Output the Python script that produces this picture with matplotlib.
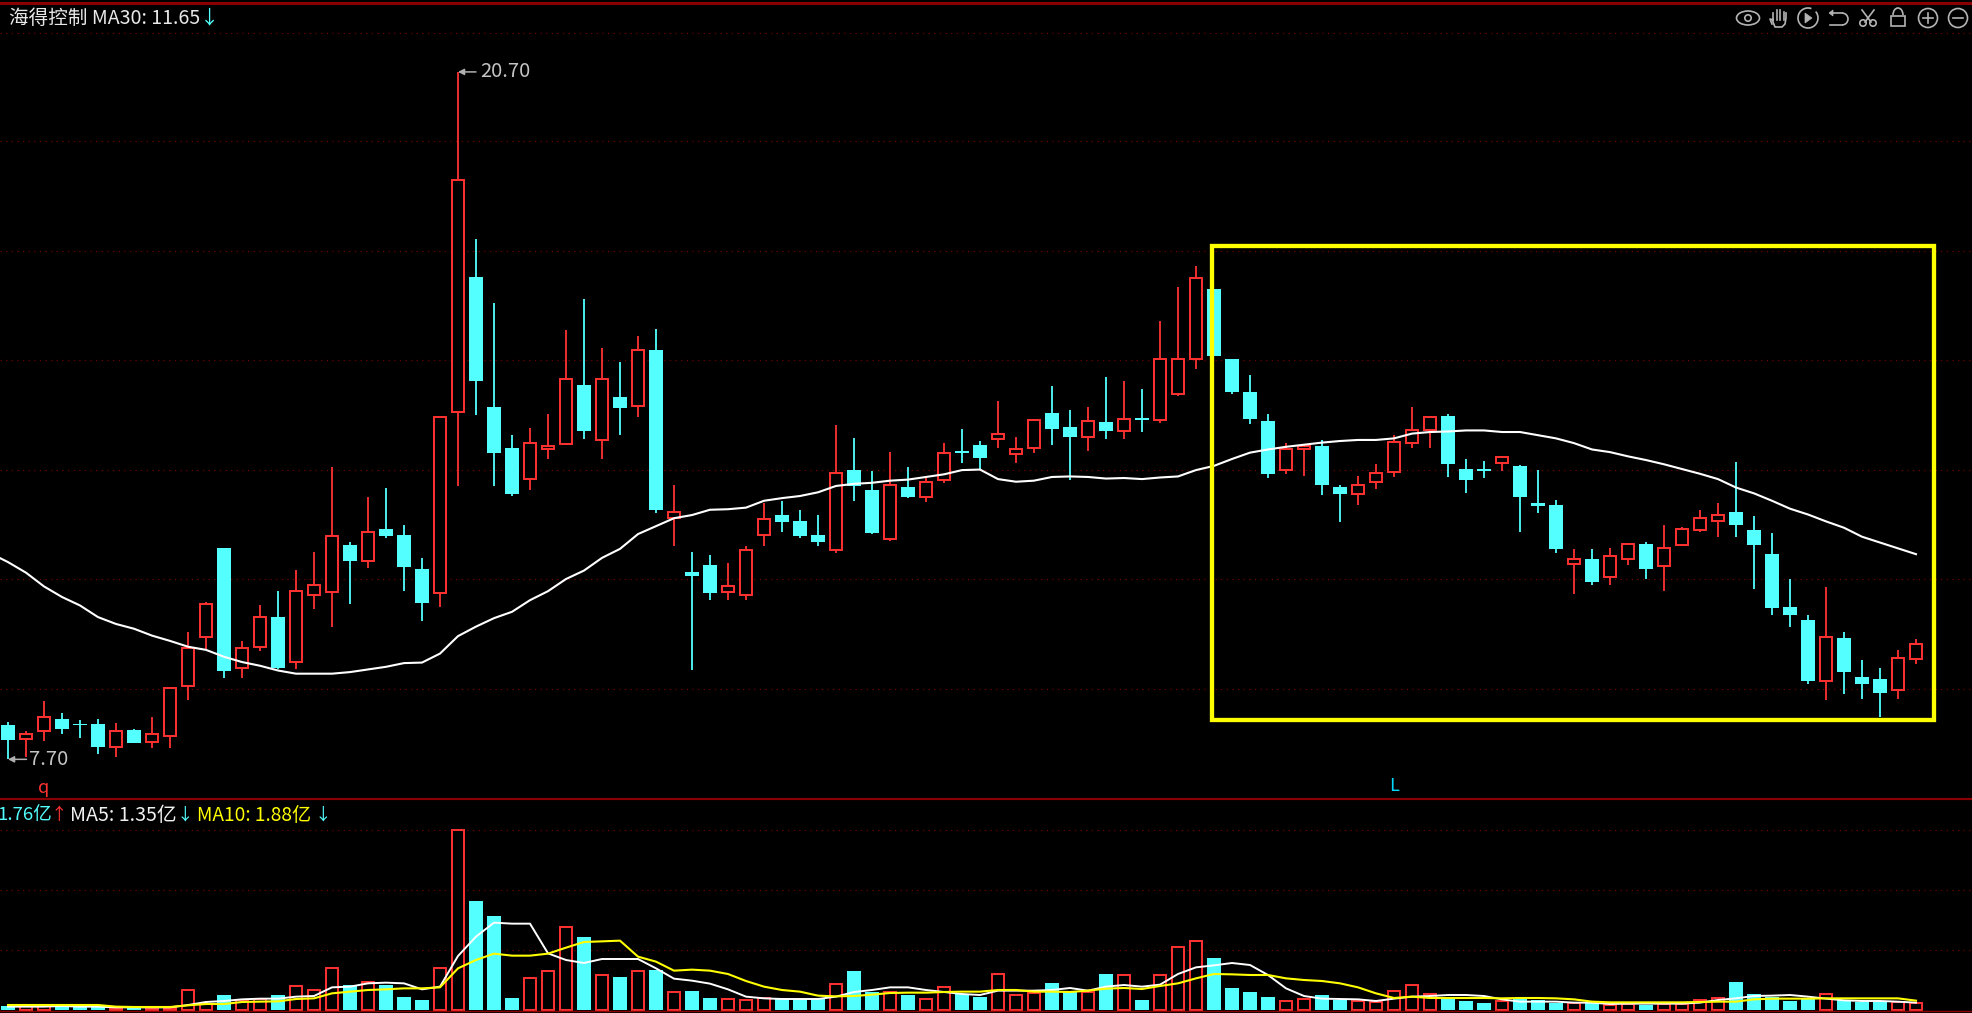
import numpy as np
import matplotlib
matplotlib.use('Agg')
import matplotlib.pyplot as plt
from matplotlib.patches import Rectangle, Circle, Ellipse, Arc, Polygon

plt.rcParams['font.family'] = ['Noto Sans CJK SC', 'DejaVu Sans']

# K线数据
opens = [8.35, 8.08, 8.23, 8.46, 8.37, 8.37, 7.94, 8.26, 8.02, 8.14,
         9.08, 10.01, 11.70, 9.42, 9.82, 10.39, 9.54, 10.80, 10.86, 11.75,
         11.46, 12.06, 11.94, 11.30, 10.84, 14.26, 16.82, 14.36, 13.59, 13.00,
         13.56, 13.67, 14.78, 13.73, 14.55, 14.38, 15.44, 12.26, 11.24, 11.38,
         10.86, 10.80, 11.94, 12.32, 12.21, 11.94, 11.65, 13.17, 12.79, 11.86,
         12.85, 12.66, 12.98, 13.53, 13.65, 13.75, 13.47, 13.58, 14.25, 13.99,
         13.79, 14.08, 13.90, 14.16, 14.12, 14.60, 15.28, 16.59, 15.27, 14.65,
         14.10, 13.18, 13.57, 13.63, 12.85, 12.71, 12.94, 13.13, 13.69, 13.92,
         14.19, 13.19, 13.19, 13.30, 13.25, 12.55, 12.51, 11.40, 11.49, 11.14,
         11.48, 11.77, 11.36, 11.76, 12.04, 12.21, 12.38, 12.04, 11.58, 10.58,
         10.34, 9.19, 10.00, 9.26, 9.22, 9.02, 9.60]
closes = [8.07, 8.17, 8.51, 8.27, 8.34, 7.93, 8.24, 8.01, 8.17, 9.04,
          9.81, 10.63, 9.38, 9.81, 10.40, 9.43, 10.89, 11.00, 11.93, 11.45,
          11.99, 11.92, 11.34, 10.66, 14.18, 18.66, 14.86, 13.49, 12.72, 13.68,
          13.62, 14.89, 13.91, 14.89, 14.34, 15.44, 12.42, 12.38, 11.17, 10.85,
          10.97, 11.65, 12.25, 12.19, 11.92, 11.81, 13.12, 12.87, 11.98, 12.88,
          12.66, 12.95, 13.50, 13.50, 13.40, 13.86, 13.57, 14.12, 13.95, 13.80,
          14.09, 13.91, 14.14, 14.12, 15.28, 15.28, 16.81, 15.33, 14.65, 14.14,
          13.10, 13.56, 13.63, 12.89, 12.72, 12.88, 13.12, 13.70, 13.92, 14.18,
          13.29, 12.98, 13.16, 13.41, 12.66, 12.49, 11.68, 11.48, 11.05, 11.54,
          11.77, 11.30, 11.70, 12.05, 12.26, 12.33, 12.13, 11.75, 10.56, 10.43,
          9.18, 10.01, 9.35, 9.13, 8.96, 9.61, 9.88]
highs = [8.40, 8.24, 8.80, 8.57, 8.45, 8.46, 8.38, 8.27, 8.50, 9.04,
         10.10, 10.68, 11.70, 9.93, 10.61, 10.88, 11.29, 11.62, 13.22, 11.81,
         12.66, 12.83, 12.13, 11.50, 14.18, 20.70, 17.54, 16.33, 13.83, 13.97,
         14.23, 15.82, 16.41, 15.48, 15.22, 15.71, 15.84, 12.89, 11.62, 11.56,
         11.41, 11.74, 12.55, 12.59, 12.42, 12.32, 14.02, 13.78, 13.15, 13.51,
         13.23, 13.05, 13.68, 13.95, 13.72, 14.48, 13.80, 14.13, 14.76, 14.31,
         14.36, 14.93, 14.86, 14.70, 15.99, 16.63, 17.03, 16.59, 15.27, 14.97,
         14.23, 13.68, 13.65, 13.74, 12.88, 13.06, 13.29, 13.83, 14.36, 14.19,
         14.23, 13.38, 13.34, 13.44, 13.27, 13.17, 12.60, 11.68, 11.68, 11.70,
         11.79, 11.81, 12.13, 12.09, 12.42, 12.55, 13.32, 12.30, 11.98, 11.11,
         10.43, 10.96, 10.11, 9.58, 9.43, 9.77, 9.98]
lows = [7.70, 7.74, 8.05, 8.17, 8.10, 7.80, 7.75, 8.00, 7.92, 7.92,
        8.83, 9.77, 9.24, 9.24, 9.75, 9.40, 9.41, 10.54, 10.21, 10.64,
        11.32, 11.89, 10.88, 10.32, 10.58, 12.87, 14.21, 12.87, 12.68, 12.79,
        13.38, 13.65, 13.76, 13.38, 13.83, 14.18, 12.36, 11.74, 9.39, 10.71,
        10.71, 10.71, 11.74, 12.00, 11.89, 11.74, 11.61, 12.59, 11.96, 11.83,
        12.64, 12.57, 12.93, 13.30, 13.17, 13.59, 13.30, 13.49, 13.65, 12.98,
        13.53, 13.76, 13.76, 13.89, 14.06, 14.57, 15.08, 15.33, 14.61, 14.04,
        13.02, 13.10, 13.05, 12.70, 12.19, 12.51, 12.81, 13.04, 13.59, 13.59,
        13.04, 12.74, 13.02, 13.15, 12.00, 12.36, 11.60, 10.83, 11.00, 11.00,
        11.38, 11.11, 10.88, 11.74, 12.00, 11.91, 11.91, 10.92, 10.43, 10.20,
        9.13, 8.82, 8.94, 8.84, 8.50, 8.84, 9.50]

# MA30，第一个值在左边界之外
ma30 = [11.60,
        11.43, 11.23, 10.97, 10.77, 10.61, 10.39, 10.26, 10.17, 10.04, 9.94,
        9.83, 9.77, 9.64, 9.54, 9.47, 9.38, 9.32, 9.32, 9.32, 9.35,
        9.40, 9.45, 9.52, 9.53, 9.70, 10.03, 10.21, 10.37, 10.49, 10.71,
        10.88, 11.11, 11.27, 11.51, 11.68, 11.96, 12.11, 12.26, 12.32, 12.42,
        12.43, 12.46, 12.59, 12.64, 12.68, 12.75, 12.87, 12.91, 12.93, 12.97,
        12.99, 13.04, 13.09, 13.17, 13.18, 13.00, 12.95, 12.97, 13.04, 13.05,
        13.04, 13.01, 13.02, 13.00, 13.03, 13.05, 13.17, 13.25, 13.38, 13.50,
        13.56, 13.61, 13.65, 13.69, 13.72, 13.74, 13.74, 13.77, 13.86, 13.89,
        13.90, 13.92, 13.92, 13.89, 13.89, 13.83, 13.77, 13.68, 13.56, 13.51,
        13.43, 13.36, 13.28, 13.19, 13.10, 13.00, 12.84, 12.73, 12.59, 12.44,
        12.33, 12.20, 12.08, 11.91, 11.80, 11.69, 11.58]

# 成交量（亿）
volumes = [0.80, 0.80, 0.93, 0.80, 0.53, 0.67, 0.40, 0.40, 0.40, 0.40,
           4.07, 1.20, 3.00, 2.00, 2.27, 3.00, 4.87, 4.07, 8.47, 4.93,
           5.53, 4.93, 2.60, 2.00, 8.47, 36.07, 21.80, 18.80, 2.40, 6.47,
           7.87, 16.67, 14.60, 7.07, 6.60, 7.87, 8.00, 3.67, 3.80, 2.40,
           2.27, 1.93, 2.47, 2.13, 2.13, 2.13, 5.27, 7.80, 3.60, 3.67,
           3.00, 2.27, 4.67, 3.20, 2.60, 7.27, 3.07, 3.33, 5.40, 3.67,
           3.67, 7.20, 7.07, 2.00, 7.07, 12.67, 13.87, 10.40, 4.40, 3.60,
           2.60, 1.87, 2.27, 3.00, 2.07, 1.73, 1.60, 3.73, 4.93, 3.13,
           2.20, 1.80, 1.40, 1.73, 2.20, 2.00, 1.47, 1.47, 1.33, 0.93,
           1.20, 1.00, 1.20, 1.20, 1.93, 2.33, 5.60, 3.20, 2.60, 1.80,
           2.33, 3.13, 2.07, 1.67, 1.67, 1.67, 1.33]
vol_ma5 = [0.67, 0.67, 0.67, 0.80, 0.67, 0.67, 0.53, 0.53, 0.53, 0.53,
           1.00, 1.60, 1.80, 2.13, 2.27, 2.27, 2.67, 2.80, 4.53, 4.67,
           5.33, 5.47, 5.33, 4.13, 4.67, 10.80, 14.67, 17.47, 17.27, 17.27,
           11.33, 10.00, 9.40, 10.20, 10.20, 10.20, 8.33, 6.27, 5.87, 5.27,
           4.13, 2.67, 2.33, 2.20, 2.20, 2.20, 2.67, 3.60, 4.00, 4.53,
           4.53, 4.00, 3.60, 3.20, 3.00, 3.87, 3.87, 3.87, 4.00, 4.40,
           3.87, 4.67, 5.00, 4.67, 5.07, 7.20, 8.53, 8.93, 9.40, 9.00,
           7.00, 4.33, 2.80, 2.27, 2.20, 2.13, 1.80, 2.27, 2.67, 2.80,
           3.00, 3.00, 2.80, 2.13, 1.67, 1.67, 1.67, 1.47, 1.47, 1.20,
           1.27, 1.27, 1.27, 1.27, 1.47, 2.00, 2.33, 2.80, 2.87, 3.00,
           2.67, 2.27, 1.93, 1.80, 1.80, 1.67, 1.47]
vol_ma10 = [1.00, 1.00, 1.00, 1.00, 1.00, 1.00, 0.67, 0.60, 0.60, 0.60,
            0.93, 1.20, 1.20, 1.60, 1.67, 1.73, 2.20, 2.33, 3.33, 3.67,
            4.00, 4.13, 4.33, 4.33, 4.53, 8.33, 10.00, 11.27, 10.87, 10.87,
            11.27, 12.47, 13.60, 13.73, 13.87, 10.67, 9.67, 7.87, 8.07, 7.87,
            7.20, 5.80, 4.67, 4.00, 3.67, 2.87, 2.73, 2.80, 3.07, 3.40,
            3.47, 3.47, 3.60, 3.67, 3.67, 4.00, 4.00, 3.67, 3.67, 3.60,
            3.87, 4.27, 4.40, 4.20, 4.80, 5.33, 6.33, 7.20, 7.13, 7.00,
            7.00, 6.33, 6.00, 5.80, 5.33, 4.53, 3.33, 2.40, 2.67, 2.40,
            2.40, 2.40, 2.40, 2.33, 2.40, 2.40, 2.33, 2.13, 1.67, 1.53,
            1.53, 1.53, 1.53, 1.53, 1.60, 1.67, 1.67, 2.13, 2.27, 2.27,
            2.27, 2.33, 2.33, 2.33, 2.33, 2.33, 1.87]

price_grid = [21.44, 19.39, 17.31, 15.25, 13.17, 11.11, 9.03]
volume_grid = [12, 24, 36]

RED = '#ff3232'
CYAN = '#54ffff'
YELLOW = '#ffff00'
DARK_RED = '#8a0000'
GRID_RED = '#6e0000'

W, H = 1972, 1013
x = np.arange(len(opens))
opens_arr = np.array(opens)
closes_arr = np.array(closes)
highs_arr = np.array(highs)
lows_arr = np.array(lows)
up = closes_arr >= opens_arr
vol_arr = np.array(volumes)

fig = plt.figure(figsize=(W / 100, H / 100), dpi=100, facecolor='black')

# 主图占 0-799 像素，成交量占 799-1013 像素
ax = fig.add_axes([0, 1 - 799 / H, 1, 799 / H], facecolor='black')
ax_vol = fig.add_axes([0, 0, 1, (H - 799) / H], facecolor='black')
for a in (ax, ax_vol):
    a.set_xlim(-8 / 18, (W - 8) / 18)
    a.axis('off')
ax.set_ylim(6.95, 22.06)
ax_vol.set_ylim(-0.6, 42.2)

# 网格线
for p in price_grid:
    ax.axhline(p, color=GRID_RED, lw=0.9, ls=(0, (1, 3.5)), zorder=1)
for v in volume_grid:
    ax_vol.axhline(v, color=GRID_RED, lw=0.9, ls=(0, (1, 3.5)), zorder=1)

# 影线和实体
ax.vlines(x[up], lows_arr[up], highs_arr[up], color=RED, lw=1.3, zorder=2)
ax.vlines(x[~up], lows_arr[~up], highs_arr[~up], color=CYAN, lw=1.3, zorder=2)
ax.bar(x[~up], (opens_arr - closes_arr)[~up], bottom=closes_arr[~up], width=0.78,
       color=CYAN, lw=0, zorder=3)
ax.bar(x[up], (closes_arr - opens_arr)[up], bottom=opens_arr[up], width=0.7,
       facecolor='black', edgecolor=RED, lw=1.4, zorder=3)
ax.plot(np.arange(-1, len(opens)), ma30, color='white', lw=1.5, zorder=4)

# 标注最高价和最低价
arrow = dict(arrowstyle='-|>,head_width=0.18,head_length=0.35', color='#b0b0b0', lw=1.1,
             shrinkA=0, shrinkB=0)
ax.annotate('', xy=(25, 20.70), xytext=(18, 0), textcoords='offset pixels', arrowprops=arrow, zorder=5)
ax.annotate('20.70', xy=(25, 20.70), xytext=(22, 0), textcoords='offset pixels',
            color='#c4c4c4', fontsize=14.5, va='center', ha='left')
ax.annotate('', xy=(0, 7.70), xytext=(18.5, 0), textcoords='offset pixels', arrowprops=arrow, zorder=5)
ax.annotate('7.70', xy=(0, 7.70), xytext=(21, 0), textcoords='offset pixels',
            color='#c4c4c4', fontsize=14.5, va='center', ha='left')

# 黄色方框
box_left, box_right = 66.9, 107.0
box_low, box_high = 8.45, 17.41
ax.add_patch(Rectangle((box_left, box_low), box_right - box_left, box_high - box_low,
                       fill=False, edgecolor=YELLOW, lw=3.1, joinstyle='miter', zorder=6))

# 成交量
ax_vol.bar(x[~up], vol_arr[~up], width=0.78, color=CYAN, lw=0, zorder=2)
ax_vol.bar(x[up], vol_arr[up], width=0.7, facecolor='black', edgecolor=RED, lw=1.4, zorder=2)
ax_vol.plot(x, vol_ma5, color='white', lw=1.4, zorder=3)
ax_vol.plot(x, vol_ma10, color=YELLOW, lw=1.5, zorder=4)

# 覆盖层：像素坐标，放文字、分隔线和工具图标
ov = fig.add_axes([0, 0, 1, 1], facecolor='none')
ov.set_xlim(0, W)
ov.set_ylim(H, 0)
ov.axis('off')
ov.plot([0, W], [2.5, 2.5], color=DARK_RED, lw=2.2)
ov.plot([0, W], [799, 799], color=DARK_RED, lw=1.6)
ov.plot([0, W], [1011, 1011], color=DARK_RED, lw=1.0)

ov.text(9, 18, '海得控制 MA30: 11.65', color='#e8e8e8', fontsize=14.1, va='center', ha='left')
ov.text(209, 18, '↓', color=CYAN, fontsize=13.8, va='center', ha='center')

ov.text(-3, 815, '1.76亿', color=CYAN, fontsize=13.4, va='center', ha='left')
ov.text(59, 815, '↑', color=RED, fontsize=12, va='center', ha='center')
ov.text(70, 815, 'MA5: 1.35亿', color='#f0f0f0', fontsize=14.2, va='center', ha='left')
ov.text(185, 815, '↓', color=CYAN, fontsize=12, va='center', ha='center')
ov.text(197, 815, 'MA10: 1.88亿', color=YELLOW, fontsize=13.8, va='center', ha='left')
ov.text(323, 815, '↓', color=CYAN, fontsize=12, va='center', ha='center')

ov.text(44, 788, 'q', color=RED, fontsize=13, va='center', ha='center')
ov.text(1394, 786, 'L', color='#00d8ff', fontsize=13, va='center', ha='center')

# 右上角工具图标
ic = '#b4b4b4'
cy = 18
# 眼睛
ov.add_patch(Ellipse((1748, cy), 23, 14, fill=False, ec=ic, lw=1.2))
ov.add_patch(Circle((1748, cy), 3.2, fill=False, ec=ic, lw=1.2))
# 手
for fx, ftop in zip([1773, 1776.5, 1780, 1783.5], [13, 10, 10, 12]):
    ov.plot([fx, fx], [ftop, 20], color=ic, lw=1.2)
ov.plot([1773, 1773, 1775, 1782, 1785, 1786, 1786], [19, 22, 27, 27, 24, 18, 13], color=ic, lw=1.2)
ov.plot([1773, 1770, 1772], [20, 19, 24], color=ic, lw=1.2)
# 播放
ov.add_patch(Arc((1808, cy), 20, 20, theta1=-40, theta2=290, ec=ic, lw=1.2))
ov.add_patch(Polygon([[1805, 13], [1805, 23], [1812, cy]], closed=True, fc=ic, ec=ic, lw=0.5))
# 撤销
ov.plot([1831, 1842], [13, 13], color=ic, lw=1.2)
ov.add_patch(Arc((1842, 19), 12, 12, theta1=-90, theta2=90, ec=ic, lw=1.2))
ov.plot([1842, 1830], [25, 25], color=ic, lw=1.2)
ov.add_patch(Polygon([[1829, 13], [1833, 10], [1833, 16]], closed=True, fc=ic, ec=ic, lw=0.5))
# 剪刀
ov.plot([1862, 1871], [10, 22], color=ic, lw=1.2)
ov.plot([1874, 1865], [10, 22], color=ic, lw=1.2)
ov.add_patch(Circle((1863, 23), 3.2, fill=False, ec=ic, lw=1.2))
ov.add_patch(Circle((1873, 23), 3.2, fill=False, ec=ic, lw=1.2))
# 锁
ov.add_patch(Rectangle((1891, 16), 14, 10, fill=False, ec=ic, lw=1.2))
ov.add_patch(Arc((1898, 15), 10, 14, theta1=180, theta2=360, ec=ic, lw=1.2))
# 加号、减号
ov.add_patch(Circle((1928, cy), 9.5, fill=False, ec=ic, lw=1.2))
ov.plot([1923, 1933], [cy, cy], color=ic, lw=1.2)
ov.plot([1928, 1928], [cy - 5, cy + 5], color=ic, lw=1.2)
ov.add_patch(Circle((1958, cy), 9.5, fill=False, ec=ic, lw=1.2))
ov.plot([1953, 1963], [cy, cy], color=ic, lw=1.2)

fig.savefig('out.png', dpi=100, facecolor='black')
